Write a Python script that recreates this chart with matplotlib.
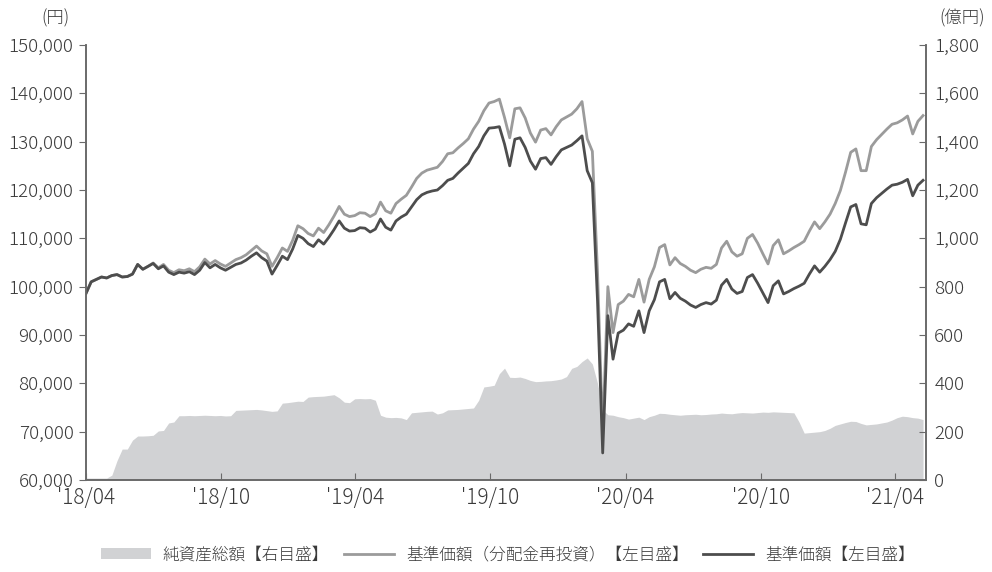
import numpy as np
import pandas as pd
import matplotlib
matplotlib.use('Agg')
import matplotlib.pyplot as plt
import matplotlib.dates as mdates
from matplotlib.patches import Patch
from matplotlib.lines import Line2D
from matplotlib.ticker import FuncFormatter

plt.rcParams['font.family'] = ['Noto Sans CJK JP', 'DejaVu Sans']
plt.rcParams['font.weight'] = 'light'

# weekly observations, 2018/04 - 2021/05
dates = pd.date_range('2018-04-01', periods=163, freq='7D')

# 基準価額 (円)
nav = [
    98600, 101000, 101500, 102000, 101800, 102300, 102500, 102000, 102100, 102600,
    104600, 103600, 104200, 104800, 103700, 104300, 103000, 102500, 103000, 102800,
    103100, 102500, 103400, 105000, 103900, 104600, 103900, 103400, 104000, 104600,
    104900, 105500, 106300, 107000, 106000, 105300, 102600, 104400, 106300, 105600,
    107800, 110600, 110000, 108900, 108300, 109700, 108800, 110200, 111800, 113600,
    112100, 111500, 111600, 112200, 112100, 111300, 111900, 114000, 112300, 111700,
    113600, 114400, 115000, 116500, 118000, 119000, 119500, 119800, 120000, 120900,
    122000, 122400, 123500, 124500, 125500, 127500, 129000, 131200, 132800, 132900,
    133100, 129500, 125000, 130500, 130800, 128800, 126000, 124300, 126500, 126700,
    125300, 126900, 128300, 128800, 129300, 130200, 131200, 124000, 121500, 97000,
    65600, 94000, 85000, 90400, 91000, 92300, 91800, 95000, 90500, 95000,
    97300, 101000, 101500, 97500, 98800, 97600, 97000, 96200, 95700, 96300,
    96700, 96400, 97200, 100300, 101500, 99500, 98600, 99000, 101900, 102500,
    100700, 98700, 96700, 100200, 101200, 98500, 99000, 99600, 100100, 100700,
    102600, 104300, 103000, 104200, 105600, 107300, 109800, 113200, 116500, 117000,
    113000, 112800, 117200, 118400, 119300, 120200, 121000, 121200, 121600, 122200,
    118800, 121000, 122000,
]

# 基準価額(分配金再投資) (円)
nav_reinv = [
    98600, 101000, 101500, 102000, 101800, 102300, 102500, 102000, 102100, 102600,
    104600, 103600, 104200, 104900, 103900, 104600, 103400, 102900, 103500, 103300,
    103700, 103100, 104100, 105700, 104700, 105400, 104700, 104200, 104900, 105600,
    106000, 106600, 107500, 108400, 107400, 106800, 104200, 106000, 108000, 107300,
    109600, 112600, 112000, 111000, 110500, 112100, 111200, 112800, 114600, 116600,
    115000, 114500, 114700, 115300, 115200, 114500, 115100, 117500, 115700, 115200,
    117200, 118100, 118900, 120600, 122400, 123500, 124100, 124400, 124700, 125900,
    127500, 127700, 128700, 129600, 130600, 132600, 134200, 136400, 138000, 138300,
    138800, 135000, 130800, 136800, 137000, 134900, 131800, 129900, 132400, 132700,
    131400, 133100, 134500, 135100, 135700, 136800, 138300, 130600, 128000, 103000,
    69500, 100000, 90500, 96300, 97000, 98400, 97900, 101500, 96800, 101500,
    104100, 108100, 108700, 104500, 106000, 104800, 104200, 103400, 102900, 103600,
    104000, 103800, 104600, 108000, 109400, 107200, 106300, 106800, 110000, 110800,
    109000, 106800, 104700, 108500, 109700, 106800, 107400, 108100, 108700, 109400,
    111500, 113400, 112000, 113400, 115000, 117200, 119900, 123700, 127800, 128500,
    124000, 124000, 129000, 130400, 131500, 132600, 133600, 133900, 134500, 135300,
    131600, 134200, 135400,
]

# 純資産総額 (億円)
assets = [
    8, 8, 8, 8, 8, 20, 80, 128, 128, 165,
    182, 182, 183, 185, 203, 205, 236, 240, 266, 266,
    267, 266, 267, 268, 267, 266, 267, 265, 266, 288,
    289, 290, 291, 292, 290, 287, 284, 286, 318, 320,
    323, 326, 325, 343, 345, 346, 347, 350, 353, 340,
    322, 320, 336, 337, 336, 337, 330, 268, 260, 258,
    259, 257, 250, 278, 280, 282, 284, 285, 273, 278,
    290, 291, 292, 294, 296, 298, 330, 385, 388, 392,
    440, 463, 425, 424, 426, 420, 412, 407, 408, 410,
    411, 414, 418, 428, 462, 470, 490, 505, 480, 400,
    290, 270, 268, 262, 258, 252, 256, 260, 250, 262,
    268, 276, 275, 272, 270, 268, 270, 271, 272, 270,
    271, 273, 274, 277, 275, 274, 277, 279, 278, 277,
    279, 281, 280, 282, 281, 280, 279, 278, 240, 194,
    196, 198, 200, 205, 214, 226, 232, 238, 243, 242,
    234, 228, 230, 232, 236, 240, 248, 258, 264, 262,
    258, 256, 250,
]

tick_dates = pd.to_datetime(['2018-04-01', '2018-10-01', '2019-04-01', '2019-10-01',
                             '2020-04-01', '2020-10-01', '2021-04-01'])

text_c = '#3a3a3a'
axis_c = '#6a6a6a'
area_c = '#d1d2d4'
light_c = '#9b9b9b'
dark_c = '#4d4d4d'

fig = plt.figure(figsize=(9.92, 5.72), dpi=100)
ax = fig.add_axes([86/992, 1-480/572, 840/992, 435/572])
ax2 = ax.twinx()

# area on right scale (drawn first, underneath)
ax.fill_between(dates, assets, 0, color=area_c, lw=0)
ax.set_ylim(0, 1800)
ax.set_yticks(np.arange(0, 1801, 200))
ax.yaxis.tick_right()
ax.yaxis.set_label_position('right')
ax.yaxis.set_major_formatter(FuncFormatter(lambda v, p: f'{int(v):,}'))
ax.tick_params(axis='y', direction='in', length=5, color=axis_c, labelcolor=text_c,
               labelsize=13.5, pad=6)

# price lines on left scale
ax2.plot(dates, nav_reinv, color=light_c, lw=2.0, solid_joinstyle='round')
ax2.plot(dates, nav, color=dark_c, lw=2.0, solid_joinstyle='round')
ax2.set_ylim(60000, 150000)
ax2.set_yticks(np.arange(60000, 150001, 10000))
ax2.yaxis.tick_left()
ax2.yaxis.set_label_position('left')
ax2.yaxis.set_major_formatter(FuncFormatter(lambda v, p: f'{int(v):,}'))
ax2.tick_params(axis='y', direction='out', length=5, color=axis_c, labelcolor=text_c,
                labelsize=13.5, pad=4)

for a in (ax, ax2):
    a.spines['top'].set_visible(False)
    for s in ('left', 'right', 'bottom'):
        a.spines[s].set_color(axis_c)
        a.spines[s].set_linewidth(1.2)

ax.set_xlim(pd.Timestamp('2018-04-01'), pd.Timestamp('2021-05-13'))
ax.set_xticks(tick_dates)
ax.xaxis.set_major_formatter(mdates.DateFormatter("'%y/%m"))
ax.tick_params(axis='x', direction='in', length=5, color=axis_c, labelcolor=text_c,
               labelsize=15, pad=5)

fig.text(55/992, 1-18/572, '(円)', ha='center', va='center', fontsize=12.5, color=text_c)
fig.text(962/992, 1-18/572, '(億円)', ha='center', va='center', fontsize=12.5, color=text_c)

handles = [
    Patch(facecolor=area_c, edgecolor='none'),
    Line2D([], [], color=light_c, lw=2.0),
    Line2D([], [], color=dark_c, lw=2.0),
]
labels = ['純資産総額【右目盛】', '基準価額（分配金再投資）【左目盛】', '基準価額【左目盛】']
fig.legend(handles, labels, loc='center', bbox_to_anchor=(508/992, 1-555/572), ncol=3,
           frameon=False, fontsize=12, handlelength=3.0, handleheight=0.6,
           columnspacing=0.9, handletextpad=0.7, labelcolor=text_c)

fig.savefig('out.png', dpi=100)
